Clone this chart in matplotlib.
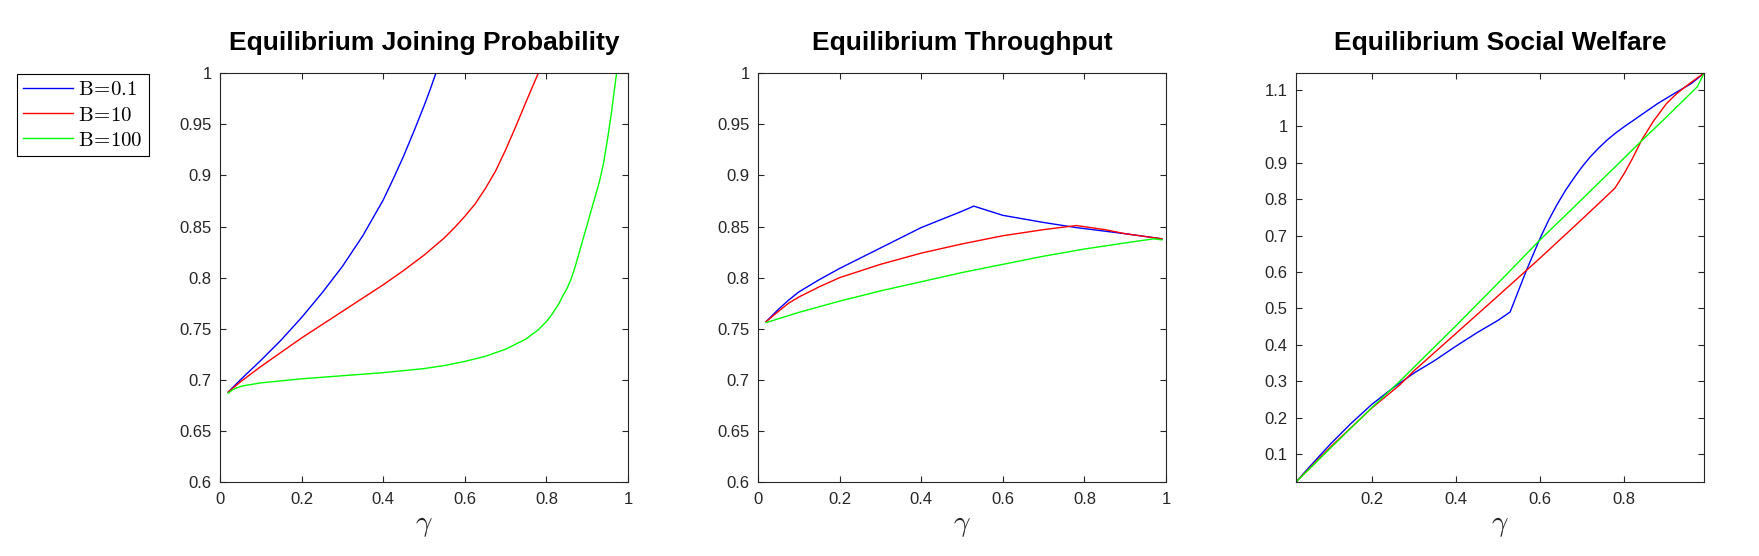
import matplotlib
matplotlib.use('Agg')
import matplotlib.pyplot as plt

plt.rcParams['font.family'] = ['Liberation Sans', 'DejaVu Sans']
plt.rcParams['mathtext.fontset'] = 'cm'

# ---------------- data ----------------
series_labels = [r'$\mathrm{B}\!=\!0.1$', r'$\mathrm{B}\!=\!10$', r'$\mathrm{B}\!=\!100$']
series_colors = ['#0000ff', '#ff0000', '#00ff00']

# Panel 1: Equilibrium Joining Probability
jp_b01_x = [0.02, 0.05, 0.10, 0.15, 0.20, 0.25, 0.30, 0.35, 0.40, 0.425, 0.45, 0.475, 0.50, 0.515, 0.529,
            0.60, 0.70, 0.80, 0.90, 0.99]
jp_b01_y = [0.688, 0.700, 0.719, 0.739, 0.761, 0.785, 0.811, 0.841, 0.876, 0.897, 0.919, 0.943, 0.968, 0.984, 1.0,
            1.0, 1.0, 1.0, 1.0, 1.0]
jp_b10_x = [0.02, 0.05, 0.10, 0.15, 0.20, 0.25, 0.30, 0.35, 0.40, 0.45, 0.50, 0.55, 0.575, 0.60, 0.625, 0.65, 0.675,
            0.70, 0.725, 0.75, 0.765, 0.78, 0.85, 0.90, 0.99]
jp_b10_y = [0.688, 0.698, 0.713, 0.727, 0.741, 0.754, 0.767, 0.780, 0.793, 0.807, 0.822, 0.839, 0.849, 0.860, 0.872,
            0.887, 0.904, 0.925, 0.948, 0.972, 0.986, 1.0, 1.0, 1.0, 1.0]
jp_b100_x = [0.02, 0.03, 0.04, 0.055, 0.07, 0.10, 0.20, 0.30, 0.40, 0.50, 0.55, 0.60, 0.65, 0.70, 0.75, 0.78, 0.80,
             0.81, 0.82, 0.83, 0.84, 0.85, 0.86, 0.87, 0.88, 0.89, 0.90, 0.91, 0.92, 0.93, 0.94, 0.95, 0.96, 0.966,
             0.972, 0.99]
jp_b100_y = [0.687, 0.690, 0.692, 0.694, 0.695, 0.697, 0.701, 0.704, 0.707, 0.711, 0.714, 0.718, 0.723, 0.730, 0.740,
             0.749, 0.757, 0.762, 0.768, 0.774, 0.782, 0.789, 0.798, 0.810, 0.824, 0.838, 0.852, 0.866, 0.880, 0.894,
             0.912, 0.936, 0.963, 0.982, 1.0, 1.0]

# Panel 2: Equilibrium Throughput
tp_b01_x = [0.02, 0.035, 0.05, 0.075, 0.10, 0.15, 0.20, 0.30, 0.40, 0.50, 0.529, 0.60, 0.70, 0.78, 0.90, 0.99]
tp_b01_y = [0.757, 0.763, 0.769, 0.778, 0.786, 0.798, 0.809, 0.829, 0.849, 0.865, 0.870, 0.861, 0.854, 0.849, 0.843, 0.838]
tp_b10_x = [0.02, 0.035, 0.05, 0.075, 0.10, 0.15, 0.20, 0.30, 0.40, 0.50, 0.60, 0.70, 0.78, 0.85, 0.90, 0.99]
tp_b10_y = [0.757, 0.762, 0.767, 0.775, 0.781, 0.791, 0.800, 0.813, 0.824, 0.833, 0.841, 0.847, 0.851, 0.847, 0.843, 0.838]
tp_b100_x = [0.02, 0.10, 0.20, 0.30, 0.40, 0.50, 0.60, 0.70, 0.80, 0.90, 0.97, 0.99]
tp_b100_y = [0.756, 0.766, 0.777, 0.787, 0.796, 0.805, 0.813, 0.821, 0.828, 0.834, 0.838, 0.837]

# Panel 3: Equilibrium Social Welfare
sw_b01_x = [0.02, 0.05, 0.10, 0.15, 0.20, 0.25, 0.30, 0.35, 0.40, 0.45, 0.50, 0.529, 0.568, 0.60, 0.62, 0.64, 0.66,
            0.68, 0.70, 0.72, 0.74, 0.76, 0.78, 0.80, 0.84, 0.88, 0.92, 0.96, 0.99]
sw_b01_y = [0.023, 0.062, 0.125, 0.183, 0.236, 0.281, 0.322, 0.357, 0.396, 0.433, 0.467, 0.490, 0.605, 0.692, 0.741,
            0.784, 0.823, 0.857, 0.889, 0.917, 0.941, 0.963, 0.982, 0.999, 1.031, 1.063, 1.091, 1.118, 1.146]
sw_b10_x = [0.02, 0.10, 0.20, 0.267, 0.30, 0.40, 0.50, 0.60, 0.70, 0.778, 0.80, 0.82, 0.842, 0.87, 0.901, 0.925, 0.949,
            0.97, 0.99]
sw_b10_y = [0.023, 0.117, 0.226, 0.290, 0.328, 0.431, 0.534, 0.638, 0.745, 0.830, 0.870, 0.912, 0.963, 1.015, 1.063,
            1.090, 1.112, 1.130, 1.146]
sw_b100_x = [0.02, 0.10, 0.20, 0.267, 0.40, 0.50, 0.60, 0.70, 0.80, 0.842, 0.90, 0.974, 0.99]
sw_b100_y = [0.023, 0.114, 0.227, 0.300, 0.452, 0.569, 0.688, 0.800, 0.913, 0.961, 1.025, 1.109, 1.146]

titles = ['Equilibrium Joining Probability', 'Equilibrium Throughput', 'Equilibrium Social Welfare']
xlabel = r'$\gamma$'

ticks_a = [0, 0.2, 0.4, 0.6, 0.8, 1]
ticklabels_a = ['0', '0.2', '0.4', '0.6', '0.8', '1']
yticks_a = [0.6, 0.65, 0.7, 0.75, 0.8, 0.85, 0.9, 0.95, 1]
yticklabels_a = ['0.6', '0.65', '0.7', '0.75', '0.8', '0.85', '0.9', '0.95', '1']
xticks_c = [0.2, 0.4, 0.6, 0.8]
xticklabels_c = ['0.2', '0.4', '0.6', '0.8']
yticks_c = [0.1, 0.2, 0.3, 0.4, 0.5, 0.6, 0.7, 0.8, 0.9, 1.0, 1.1]
yticklabels_c = ['0.1', '0.2', '0.3', '0.4', '0.5', '0.6', '0.7', '0.8', '0.9', '1', '1.1']

# ---------------- figure ----------------
W, H = 1759, 556
fig = plt.figure(figsize=(W / 100, H / 100), dpi=100)
axc = '#262626'

lefts = [220, 758, 1296]
aw = 408
bottom_px, top_px = 482, 73.3
axes = []
for l in lefts:
    ax = fig.add_axes([l / W, 1 - bottom_px / H, aw / W, (bottom_px - top_px) / H])
    axes.append(ax)

panel_data = [
    [(jp_b01_x, jp_b01_y), (jp_b10_x, jp_b10_y), (jp_b100_x, jp_b100_y)],
    [(tp_b01_x, tp_b01_y), (tp_b10_x, tp_b10_y), (tp_b100_x, tp_b100_y)],
    [(sw_b01_x, sw_b01_y), (sw_b10_x, sw_b10_y), (sw_b100_x, sw_b100_y)],
]

handles = []
for i, ax in enumerate(axes):
    for j, (xs, ys) in enumerate(panel_data[i]):
        h, = ax.plot(xs, ys, color=series_colors[j], lw=1.0, label=series_labels[j])
        if i == 0:
            handles.append(h)
    ax.set_title(titles[i], fontsize=19, fontweight='bold', pad=17, color='black')
    ax.set_xlabel(xlabel, fontsize=21, color=axc, labelpad=3)
    ax.tick_params(direction='in', top=True, right=True, length=4, width=0.8,
                   labelsize=12, colors=axc)
    ax.tick_params(axis='x', pad=7)
    ax.tick_params(axis='y', pad=6)
    for s in ax.spines.values():
        s.set_color(axc)
        s.set_linewidth(0.8)

for ax in axes[:2]:
    ax.set_xlim(0, 1)
    ax.set_ylim(0.6, 1)
    ax.set_xticks(ticks_a)
    ax.set_xticklabels(ticklabels_a)
    ax.set_yticks(yticks_a)
    ax.set_yticklabels(yticklabels_a)

axes[2].set_xlim(0.02, 0.99)
axes[2].set_ylim(0.023, 1.146)
axes[2].set_xticks(xticks_c)
axes[2].set_xticklabels(xticklabels_c)
axes[2].set_yticks(yticks_c)
axes[2].set_yticklabels(yticklabels_c)

leg = fig.legend(handles=handles, loc='upper left', bbox_to_anchor=(17 / W, 1 - 74 / H),
                 bbox_transform=fig.transFigure, borderaxespad=0, fontsize=15,
                 frameon=True, fancybox=False, framealpha=1, edgecolor='black',
                 handlelength=2.4, handletextpad=0.25, borderpad=0.3, labelspacing=0.3)
leg.get_frame().set_linewidth(0.8)

fig.savefig('out.png', dpi=100)
